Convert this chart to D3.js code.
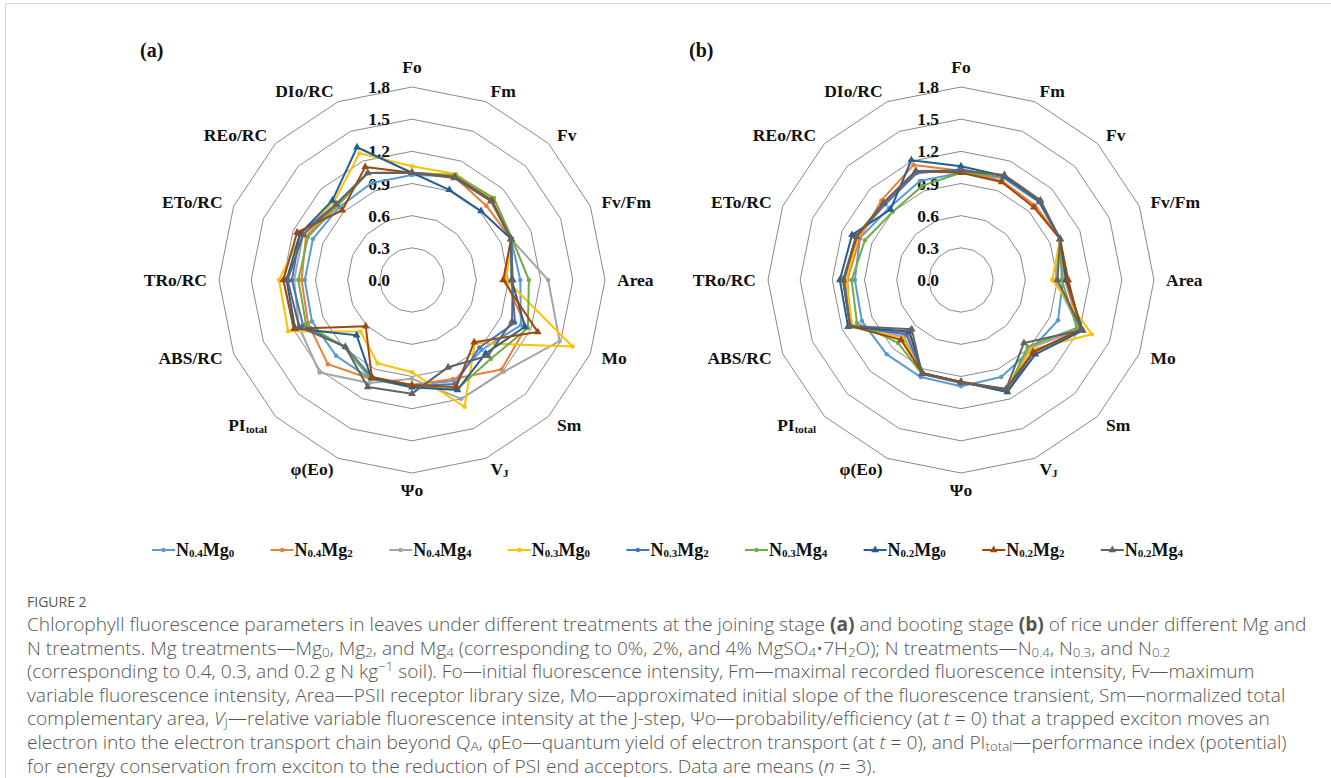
<!DOCTYPE html>
<html>
<head>
<meta charset="utf-8">
<script src="https://cdn.jsdelivr.net/npm/d3@7"></script>
<style>
  body { margin: 0; background: #fff; }
  svg { display: block; }
</style>
</head>
<body>
<script>
// radar axes, clockwise from the top
var axes = ["Fo", "Fm", "Fv", "Fv/Fm", "Area", "Mo", "Sm", "V_{J}", "Ψo", "φ(Eo)",
  "PI_{total}", "ABS/RC", "TRo/RC", "ETo/RC", "REo/RC", "DIo/RC"];
var ticks = [0, 0.3, 0.6, 0.9, 1.2, 1.5, 1.8];
var treatments = ["N_{0.4}Mg_{0}", "N_{0.4}Mg_{2}", "N_{0.4}Mg_{4}", "N_{0.3}Mg_{0}", "N_{0.3}Mg_{2}",
  "N_{0.3}Mg_{4}", "N_{0.2}Mg_{0}", "N_{0.2}Mg_{2}", "N_{0.2}Mg_{4}"];

// (a) joining stage, one row per treatment, values in axis order
var joining = [
  [0.98, 1.05, 1.05, 1.00, 1.01, 1.10, 0.92, 1.02, 0.98, 1.00, 1.00, 1.01, 1.00, 1.00, 0.96, 0.98],
  [1.00, 1.04, 0.98, 1.00, 0.87, 1.15, 1.18, 1.00, 0.98, 1.00, 1.11, 1.05, 1.03, 1.07, 0.99, 1.08],
  [1.00, 1.05, 1.05, 1.00, 1.27, 1.49, 1.21, 1.20, 0.92, 1.04, 1.22, 1.14, 1.10, 1.10, 1.00, 1.08],
  [1.06, 1.07, 1.06, 1.00, 0.88, 1.62, 0.83, 1.28, 0.86, 0.84, 0.68, 1.25, 1.24, 1.12, 1.03, 1.28],
  [1.00, 1.05, 1.05, 1.00, 0.93, 1.04, 0.89, 1.05, 0.99, 0.98, 0.88, 1.10, 1.12, 1.13, 1.00, 1.08],
  [1.00, 1.06, 1.08, 1.01, 1.09, 1.17, 1.04, 1.10, 1.00, 1.00, 0.89, 1.07, 1.06, 1.05, 0.98, 1.08],
  [1.00, 0.91, 0.91, 1.00, 0.93, 1.14, 0.97, 1.11, 1.00, 0.99, 0.73, 1.18, 1.17, 1.13, 1.05, 1.34],
  [1.00, 1.04, 1.05, 1.00, 0.85, 1.27, 0.82, 1.08, 0.98, 0.98, 0.61, 1.19, 1.20, 1.16, 0.92, 1.14],
  [1.00, 1.03, 1.04, 1.00, 0.94, 1.01, 1.00, 0.88, 1.06, 1.08, 0.88, 1.14, 1.16, 1.10, 1.00, 1.08]
];

// (b) booting stage
var booting = [
  [1.00, 1.03, 1.03, 1.00, 0.95, 0.98, 0.92, 0.98, 0.99, 0.98, 0.98, 1.00, 0.99, 1.02, 0.95, 1.00],
  [1.02, 1.00, 0.98, 1.00, 0.97, 1.20, 0.96, 1.12, 0.95, 0.94, 0.70, 1.12, 1.06, 1.02, 1.05, 1.16],
  [1.02, 1.05, 1.03, 1.00, 0.88, 1.20, 0.90, 1.12, 0.95, 0.94, 0.75, 1.10, 1.08, 1.05, 1.02, 1.10],
  [1.03, 1.04, 1.03, 1.00, 0.85, 1.32, 0.92, 1.12, 0.95, 0.94, 0.77, 1.10, 1.07, 1.04, 1.00, 1.08],
  [1.03, 1.04, 1.03, 1.00, 0.99, 1.22, 0.95, 1.13, 0.95, 0.94, 0.72, 1.12, 1.09, 1.06, 1.00, 1.08],
  [1.00, 1.05, 1.04, 1.00, 0.94, 1.17, 0.88, 1.12, 0.95, 0.95, 0.83, 1.05, 1.02, 0.97, 0.90, 0.95],
  [1.06, 1.05, 1.04, 1.00, 0.98, 1.23, 0.98, 1.13, 0.95, 0.94, 0.68, 1.14, 1.13, 1.10, 0.93, 1.21],
  [1.00, 0.99, 0.96, 1.00, 1.00, 1.21, 0.95, 1.10, 0.95, 0.94, 0.79, 1.12, 1.10, 1.06, 1.02, 1.10],
  [1.02, 1.06, 1.05, 1.00, 0.90, 1.22, 0.83, 1.10, 0.96, 0.95, 0.65, 1.12, 1.10, 1.05, 1.02, 1.10]
];

var colors = ["#5B9BD5", "#ED7D31", "#A5A5A5", "#FFC000", "#4472C4", "#70AD47", "#255E91", "#9E480E", "#636363"];

var caption = [
  "Chlorophyll fluorescence parameters in leaves under different treatments at the joining stage #(a)# and booting stage #(b)# of rice under different Mg and",
  "N treatments. Mg treatments—Mg_{0}, Mg_{2}, and Mg_{4} (corresponding to 0%, 2%, and 4% MgSO_{4}•7H_{2}O); N treatments—N_{0.4}, N_{0.3}, and N_{0.2}",
  "(corresponding to 0.4, 0.3, and 0.2 g N kg^{−1} soil). Fo—initial fluorescence intensity, Fm—maximal recorded fluorescence intensity, Fv—maximum",
  "variable fluorescence intensity, Area—PSII receptor library size, Mo—approximated initial slope of the fluorescence transient, Sm—normalized total",
  "complementary area, *V*_{J}—relative variable fluorescence intensity at the J-step, Ψo—probability/efficiency (at *t* = 0) that a trapped exciton moves an",
  "electron into the electron transport chain beyond Q_{A}, φEo—quantum yield of electron transport (at *t* = 0), and PI_{total}—performance index (potential)",
  "for energy conservation from exciton to the reduction of PSI end acceptors. Data are means (*n* = 3)."
];

var W = 1331, H = 778;
var serif = "'Liberation Serif', 'Times New Roman', serif";

var svg = d3.select("body")
  .append("svg")
  .attr("width", W)
  .attr("height", H);

// frame of the figure box
svg.append("path")
  .attr("d", "M5.5,778 L5.5,3.5 L1331,3.5")
  .attr("fill", "none")
  .attr("stroke", "#d6d6d6")
  .attr("stroke-width", 1);

// writes str into a text element, _{} sub, ^{} sup, *..* italic, #..# bold
function rich(text, str, small, down, up) {
  var parts = str.split(/(_\{[^}]*\}|\^\{[^}]*\}|\*[^*]*\*|#[^#]*#)/).filter(function(s) { return s.length; });
  var shift = 0;
  parts.forEach(function(p) {
    var t = text.append("tspan"), want = 0, txt = p;
    if (p.indexOf("_{") == 0) {
      want = down; txt = p.slice(2, -1); t.attr("font-size", small);
    } else if (p.indexOf("^{") == 0) {
      want = -up; txt = p.slice(2, -1); t.attr("font-size", small);
    } else if (p[0] == "*") {
      txt = p.slice(1, -1); t.attr("font-style", "italic");
    } else if (p[0] == "#") {
      txt = p.slice(1, -1); t.attr("font-weight", "bold");
    }
    if (want != shift) t.attr("dy", want - shift);
    shift = want;
    t.text(txt);
  });
}

var n = axes.length;
var angle = d3.scaleLinear().domain([0, n]).range([0, 2 * Math.PI]);
var r = d3.scaleLinear().domain([0, 1.8]).range([0, 193]);

function drawRadar(cx, cy, data, tag) {
  var g = svg.append("g").attr("transform", "translate(" + cx + "," + cy + ")");

  var ring = d3.lineRadial()
    .angle(function(d, i) { return angle(i); })
    .radius(function(d) { return r(d); })
    .curve(d3.curveLinearClosed);

  g.selectAll(".ring")
    .data(ticks.slice(1))
    .enter()
    .append("path")
    .attr("class", "ring")
    .attr("d", function(t) { return ring(axes.map(function() { return t; })); })
    .attr("fill", "none")
    .attr("stroke", "#6b6b6b")
    .attr("stroke-width", 0.8);

  g.selectAll(".tick")
    .data(ticks)
    .enter()
    .append("text")
    .attr("class", "tick")
    .attr("x", -22)
    .attr("y", function(t) { return -r(t); })
    .attr("text-anchor", "end")
    .attr("dominant-baseline", "central")
    .attr("font-family", serif)
    .attr("font-weight", "bold")
    .attr("font-size", 17.5)
    .attr("fill", "#111")
    .text(function(t) { return t.toFixed(1); });

  g.selectAll(".cat")
    .data(axes)
    .enter()
    .append("text")
    .attr("class", "cat")
    .attr("x", function(d, i) { return 205 * Math.sin(angle(i)); })
    .attr("y", function(d, i) {
      var c = Math.cos(angle(i));
      var y = -205 * c;
      if (c > 0.99) y -= 8;
      if (c < -0.99) y += 5;
      return y;
    })
    .attr("text-anchor", function(d, i) {
      var s = Math.sin(angle(i));
      return s > 0.01 ? "start" : (s < -0.01 ? "end" : "middle");
    })
    .attr("dominant-baseline", "central")
    .attr("font-family", serif)
    .attr("font-weight", "bold")
    .attr("font-size", 17.5)
    .attr("fill", "#111")
    .each(function(d) { rich(d3.select(this), d, 11, 4, 6); });

  var series = g.selectAll(".series")
    .data(data)
    .enter()
    .append("g")
    .attr("class", "series");

  series.append("path")
    .attr("d", function(d) { return ring(d); })
    .attr("fill", "none")
    .attr("stroke", function(d, i) { return colors[i]; })
    .attr("stroke-width", 2)
    .attr("stroke-linejoin", "round");

  series.each(function(d, si) {
    d3.select(this).selectAll("path.mk")
      .data(d)
      .enter()
      .append("path")
      .attr("class", "mk")
      .attr("transform", function(v, i) {
        return "translate(" + (r(v) * Math.sin(angle(i))) + "," + (-r(v) * Math.cos(angle(i))) + ")";
      })
      .attr("d", d3.symbol().type(si >= 6 ? d3.symbolTriangle : d3.symbolCircle).size(si >= 6 ? 26 : 16))
      .attr("fill", colors[si]);
  });

  svg.append("text")
    .attr("x", cx - 272)
    .attr("y", 50)
    .attr("dominant-baseline", "central")
    .attr("font-family", serif)
    .attr("font-weight", "bold")
    .attr("font-size", 20)
    .attr("fill", "#111")
    .text(tag);
}

drawRadar(412, 280, joining, "(a)");
drawRadar(961, 280, booting, "(b)");

// legend
var legend = svg.selectAll(".legend")
  .data(treatments)
  .enter()
  .append("g")
  .attr("class", "legend")
  .attr("transform", function(d, i) { return "translate(" + (152 + i * 118.6) + ",550)"; });

legend.append("line")
  .attr("x1", 0)
  .attr("x2", 23)
  .attr("stroke", function(d, i) { return colors[i]; })
  .attr("stroke-width", 2);

legend.append("path")
  .attr("transform", "translate(11.5,0)")
  .attr("d", function(d, i) { return d3.symbol().type(i >= 6 ? d3.symbolTriangle : d3.symbolCircle).size(i >= 6 ? 26 : 16)(); })
  .attr("fill", function(d, i) { return colors[i]; });

legend.append("text")
  .attr("x", 24)
  .attr("y", 0)
  .attr("dominant-baseline", "central")
  .attr("font-family", serif)
  .attr("font-weight", "bold")
  .attr("font-size", 18)
  .attr("fill", "#111")
  .each(function(d) { rich(d3.select(this), d, 11, 3, 6); });

// caption
var sans = "'Open Sans', 'Noto Sans', sans-serif";
svg.append("text")
  .attr("x", 27)
  .attr("y", 601)
  .attr("dominant-baseline", "central")
  .attr("font-family", sans)
  .attr("font-size", 14)
  .attr("fill", "#555")
  .text("FIGURE 2");

var probe = svg.append("text")
  .attr("font-family", sans)
  .attr("font-weight", 300)
  .attr("font-size", 16)
  .text(caption[0].replace(/#/g, ""));
var capSize = 16 * 1273 / probe.node().getComputedTextLength();
probe.remove();

caption.forEach(function(line, i) {
  var t = svg.append("text")
    .attr("x", 27)
    .attr("y", 624 + i * 23.6)
    .attr("dominant-baseline", "central")
    .attr("font-family", sans)
    .attr("font-weight", 300)
    .attr("font-size", capSize)
    .attr("fill", "#555");
  rich(t, line, capSize * 0.7, 4, 5);
});
</script>
</body>
</html>
